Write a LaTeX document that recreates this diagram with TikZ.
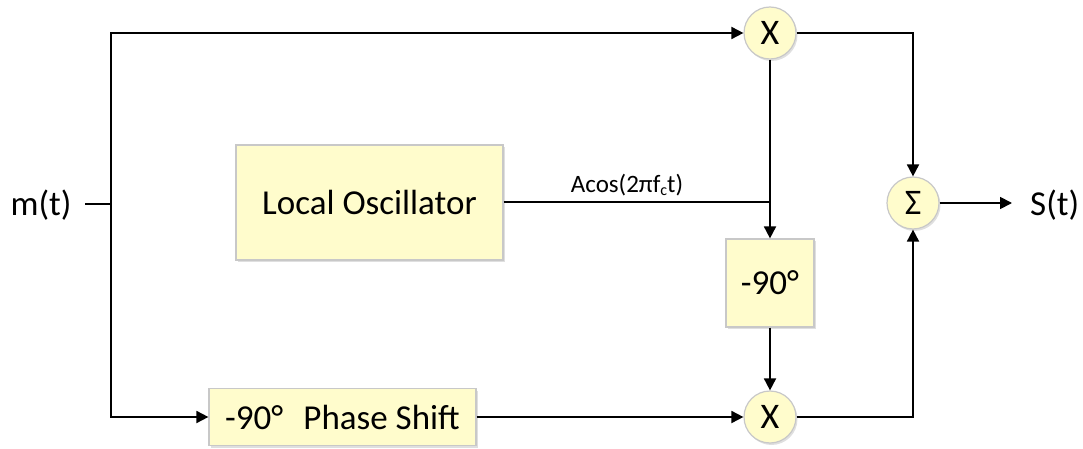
\documentclass[tikz,border=0pt]{standalone}
\usepackage{fontspec}
\setmainfont{Carlito}
\usetikzlibrary{arrows.meta,shadows}
\definecolor{boxfill}{HTML}{FFFCCC}
\definecolor{boxline}{HTML}{C8C8C8}
\tikzset{
  blk/.style={draw=boxline, line width=1.2pt, fill=boxfill, inner sep=0pt,
    drop shadow={opacity=0.25, shadow xshift=1.5pt, shadow yshift=-2pt},
    font=\fontsize{35}{35}\selectfont},
  mix/.style={circle, draw=boxline, line width=1.2pt, fill=boxfill, minimum size=52pt, inner sep=0pt,
    drop shadow={opacity=0.25, shadow xshift=1.5pt, shadow yshift=-2pt},
    font=\fontsize{36}{36}\selectfont},
  lbl/.style={font=\fontsize{35}{35}\selectfont, inner sep=0pt},
  wire/.style={line width=1.8pt},
  arr/.style={wire, -{Triangle[length=12pt,width=12pt]}}
}
\begin{document}
\begin{tikzpicture}[x=1pt,y=-1pt]
\useasboundingbox (0,0) rectangle (1083,449);
\node[lbl] (mt) at (41,205) {m(t)};
\node[blk, minimum width=267pt, minimum height=115pt] (lo) at (369.5,202.5) {Local Oscillator};
\node[blk, minimum width=88pt, minimum height=88pt] (m90) at (770,283) {-90°};
\node[blk, minimum width=267pt, minimum height=57pt] (ps) at (342.5,417) {-90°\hspace{0.35em} Phase Shift};
\node[mix] (x1) at (770,33) {X};
\node[mix] (x2) at (770,417) {X};
\node[mix] (sum) at (913,203) {Σ};
\node[lbl, anchor=west] (st) at (1030,205) {S(t)};
\coordinate (j) at (111,204);
\coordinate (mstart) at (85,204);
\coordinate (out) at (1012,203);
\coordinate (lo2) at (770,202);
\draw[wire] (mstart) -- (j);
\draw[arr] (j) |- (x1.west);
\draw[arr] (j) |- (ps.west);
\draw[arr] (x1.south) -- (m90.north);
\draw[wire] (lo.east |- lo2) -- (lo2);
\node[font=\fontsize{25}{25}\selectfont, inner sep=0pt, anchor=base] (acos) at (627,192) {Acos(2πf{\fontsize{16}{16}\selectfont\raisebox{-4pt}{c}}t)};
\draw[arr] (m90.south) -- (x2.north);
\draw[arr] (ps.east) -- (x2.west);
\draw[arr] (x1.east) -| (sum.north);
\draw[arr] (x2.east) -| (sum.south);
\draw[arr] (sum.east) -- (out);
\end{tikzpicture}
\end{document}
